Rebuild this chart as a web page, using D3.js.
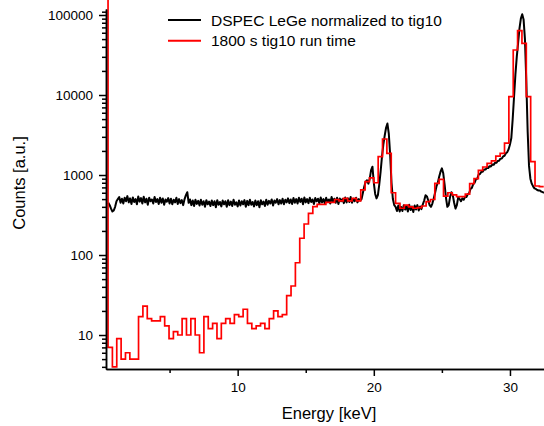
<!DOCTYPE html>
<html lang="en">
<head>
<meta charset="UTF-8">
<title>LeGe vs tig10 spectrum</title>
<script src="https://d3js.org/d3.v7.min.js"></script>
<style>
    body { margin: 0; background: #fff; }
    svg { display: block; }
    text { font-family: "Liberation Sans", Arial, sans-serif; fill: #000; }
    .axis path, .axis line { stroke: #000; stroke-width: 1.5; }
    .axis text { font-size: 13.5px; }
</style>
</head>
<body>
<script>
const width = 544
const height = 426

// DSPEC LeGe spectrum, read every 0.1 keV starting at 0.5 keV
const dspecStart = 0.5
const dspecStep = 0.1
const dspecCounts = [
    450, 420, 380, 350, 360, 400, 470, 500,
    530, 450, 505, 440, 520, 470, 545, 455,
    510, 435, 525, 460, 500, 430, 540, 465, 515, 440,
    535, 455, 505, 425, 520, 470, 495, 440, 530, 460,
    500, 435, 520, 450, 510, 425, 495, 465, 515, 440,
    505, 430, 490, 455, 520, 435, 500, 445, 485, 420,
    500, 560, 610, 450, 495, 420, 480, 410, 490, 435,
    475, 415, 490, 425, 470, 400, 485, 430, 465, 410,
    480, 420, 470, 395, 485, 425, 460, 405, 480, 430,
    470, 400, 485, 420, 465, 410, 490, 425, 455, 405,
    480, 415, 470, 430, 485, 400, 475, 420, 490, 425,
    460, 405, 480, 420, 470, 395, 485, 430, 465, 410,
    490, 425, 475, 440, 495, 415, 480, 450, 500, 430,
    485, 440, 505, 430, 490, 455, 510, 445, 495, 435,
    515, 450, 500, 440, 520, 460, 505, 430, 525, 455,
    500, 445, 520, 460, 495, 435, 515, 470, 505, 440,
    525, 455, 500, 445, 520, 465, 495, 440, 530, 460,
    505, 450, 520, 435, 510, 470, 500, 445, 525, 455,
    510, 460, 530, 450, 505, 470, 520, 455, 500, 480,
    500, 600, 720, 820, 860, 780, 900, 1150, 1270, 800,
    580, 510, 560, 760, 1100, 1700, 2400, 3100, 3900, 4400,
    3300, 1800, 800, 500, 420, 400, 355, 415, 350, 400,
    355, 420, 370, 410, 350, 425, 365, 405, 345, 415,
    370, 420, 360, 405, 375, 430, 480, 560, 540, 480,
    420, 400, 440, 510, 600, 720, 800, 950, 1100, 1210,
    1050, 760, 520, 400, 420, 530, 610, 560, 450, 380,
    420, 530, 500, 470, 510, 490, 530, 530, 575, 590,
    670, 690, 770, 800, 880, 900, 1010, 1030, 1100, 1100,
    1170, 1170, 1230, 1220, 1290, 1280, 1350, 1340, 1420, 1420,
    1500, 1510, 1600, 1610, 1710, 1740, 1870, 1930, 2100, 2400,
    2900, 5000, 9500, 18000, 30000, 45000, 68000, 90000, 102000, 88000,
    50000, 15000, 3500, 1300, 900, 780, 720, 680, 670, 650,
    640, 640, 620, 610, 600
]

// tig10 histogram, 0.32 keV bins from 0.48 keV
const tigStart = 0.48
const tigBin = 0.32
const tigFirstChannel = 1e6   // overflow channel just below the first bin
const tigCounts = [
    7, 4, 9, 5, 6, 5, 5, 17, 23, 16,
    15, 15, 17, 13, 9, 11, 10, 16, 10, 16,
    10, 6, 17, 12, 14, 9, 14, 16, 14, 18,
    17, 21, 14, 12, 13, 14, 12, 16, 20, 17,
    18, 31, 41, 80, 162, 244, 332, 402, 430, 430,
    455, 455, 494, 475, 509, 475, 509, 475, 650, 826,
    920, 800, 1694, 2818, 1860, 600, 443, 384, 420, 400,
    384, 390, 410, 466, 494, 788, 883, 546, 600, 565,
    537, 537, 578, 780, 900, 1140, 1260, 1400, 1500, 1720,
    1860, 2500, 9560, 36500, 63700, 44300, 9560, 1466, 729, 714
]

const yMajor = [10, 100, 1000, 10000, 100000]
const xMajor = [10, 20, 30]
const xMinor = [5, 15, 25]
const seriesNames = ["DSPEC LeGe normalized to tig10", "1800 s tig10 run time"]
const seriesColors = ["#000000", "#ff0000"]

const mLeft = 106, mRight = 544, mTop = 9, mBottom = 369

let svg = d3.select("body").append("svg")
    .attr("width", width).attr("height", height)

const x = d3.scaleLinear().domain([0.33, 32.5]).range([mLeft, mRight])
const y = d3.scaleLog().domain([3.76, 118850]).range([mBottom, mTop])

// minor ticks on the log axis: 2..9 of every decade
let yMinor = []
for (let d = 1; d <= 100000; d *= 10) {
    for (let k = 2; k <= 9; k++) {
        const v = k * d
        if (v >= y.domain()[0] && v <= y.domain()[1]) yMinor.push(v)
    }
}
yMinor.push(110000)

svg.append("defs").append("clipPath").attr("id", "plot")
    .append("rect").attr("x", mLeft).attr("y", 0)
    .attr("width", mRight - mLeft + 2).attr("height", mBottom)

let gPlot = svg.append("g").attr("clip-path", "url(#plot)")

const dspecLine = d3.line()
    .x((d, i) => x(dspecStart + i * dspecStep))
    .y(d => y(d))

gPlot.append("path")
    .datum(dspecCounts)
    .attr("d", dspecLine)
    .attr("fill", "none")
    .attr("stroke", seriesColors[0])
    .attr("stroke-width", 2)
    .attr("stroke-linejoin", "round")

// step histogram: edge points, last bin closed at its right edge
let tigPts = [{e: tigStart, v: tigFirstChannel}]
tigCounts.forEach((v, i) => tigPts.push({e: tigStart + i * tigBin, v: v}))
tigPts.push({e: tigStart + tigCounts.length * tigBin, v: tigCounts[tigCounts.length - 1]})

const tigLine = d3.line()
    .x(d => x(d.e))
    .y(d => y(d.v))
    .curve(d3.curveStepAfter)

gPlot.append("path")
    .datum(tigPts)
    .attr("d", tigLine)
    .attr("fill", "none")
    .attr("stroke", seriesColors[1])
    .attr("stroke-width", 1.7)

// axes
svg.append("g").attr("class", "axis")
    .attr("transform", `translate(${mLeft},0)`)
    .call(d3.axisLeft(y).tickValues(yMinor).tickSize(4).tickSizeOuter(0).tickFormat(""))
svg.append("g").attr("class", "axis")
    .attr("transform", `translate(${mLeft},0)`)
    .call(d3.axisLeft(y).tickValues(yMajor).tickSize(7).tickSizeOuter(0).tickPadding(6).tickFormat(d3.format("d")))

svg.append("g").attr("class", "axis")
    .attr("transform", `translate(0,${mBottom})`)
    .call(d3.axisBottom(x).tickValues(xMinor).tickSize(4).tickSizeOuter(0).tickFormat(""))
svg.append("g").attr("class", "axis")
    .attr("transform", `translate(0,${mBottom})`)
    .call(d3.axisBottom(x).tickValues(xMajor).tickSize(7).tickSizeOuter(0).tickPadding(6).tickFormat(d3.format("d")))

svg.append("text")
    .attr("x", 329).attr("y", 419)
    .attr("text-anchor", "middle")
    .style("font-size", "16.5px")
    .text("Energy [keV]")

svg.append("text")
    .attr("transform", "translate(25,183) rotate(-90)")
    .attr("text-anchor", "middle")
    .style("font-size", "16.5px")
    .text("Counts [a.u.]")

// legend
let gLegend = svg.append("g")
seriesNames.forEach((name, i) => {
    const ly = 20 + i * 20.7
    gLegend.append("line")
        .attr("x1", 168).attr("x2", 201)
        .attr("y1", ly).attr("y2", ly)
        .attr("stroke", seriesColors[i]).attr("stroke-width", 2)
    gLegend.append("text")
        .attr("x", 211).attr("y", ly + 5.5)
        .style("font-size", "15.5px")
        .text(name)
})
</script>
</body>
</html>
